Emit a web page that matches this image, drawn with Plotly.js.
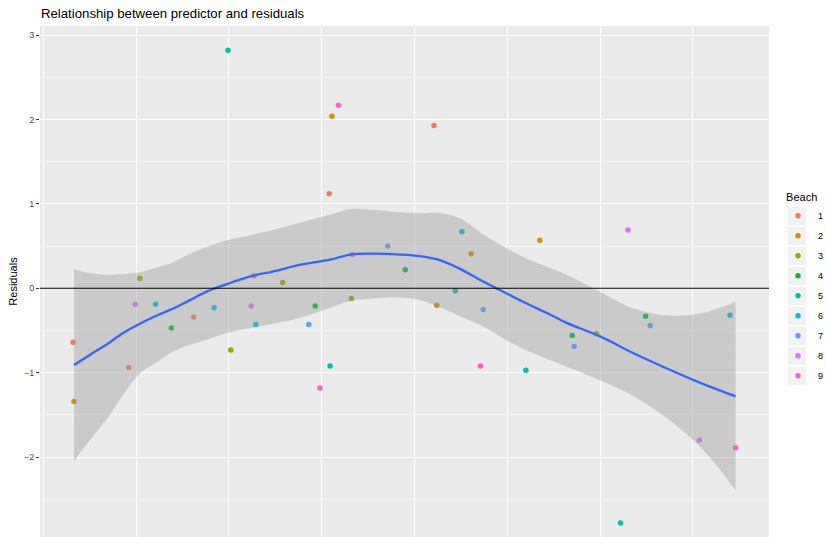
<!DOCTYPE html>
<html><head><meta charset="utf-8">
<script src="https://cdn.plot.ly/plotly-3.0.1.min.js"></script>
<style>html,body{margin:0;padding:0;background:#fff;overflow:hidden}</style>
</head><body><div id="chart" style="width:826px;height:537px"></div>
<script>
// Categories and colours
const beaches = ["1","2","3","4","5","6","7","8","9"];
const beachColors = ["#F8766D","#D39200","#93AA00","#00BA38","#00C19F","#00B9E3","#619CFF","#DB72FB","#FF61C3"];

// Points: predictor (x), residuals (y), beach
const pointX = [0.32,0.33,0.92,0.99,1.04,1.21,1.38,1.62,1.84,1.99,2.02,2.27,2.24,2.29,2.58,2.86,2.93,2.98,3.09,3.08,3.11,3.18,3.33,3.32,3.71,3.90,4.21,4.24,4.44,4.51,4.61,4.74,4.71,5.20,5.35,5.70,5.72,5.96,6.30,6.22,6.49,6.54,7.07,7.40,7.46];
const pointY = [-0.64,-1.34,-0.94,-0.19,0.12,-0.19,-0.47,-0.34,-0.23,2.82,-0.73,0.15,-0.21,-0.43,0.07,-0.43,-0.21,-1.18,-0.92,1.12,2.04,2.17,0.40,-0.12,0.50,0.22,1.93,-0.20,-0.03,0.67,0.41,-0.25,-0.92,-0.97,0.57,-0.56,-0.69,-0.54,0.69,-2.78,-0.33,-0.44,-1.80,-0.32,-1.89];
const pointBeach = ["1","2","1","8","3","6","4","1","6","5","3","9","8","6","3","7","4","9","5","1","2","9","8","3","7","4","1","2","5","6","2","7","9","5","2","4","7","3","8","5","4","7","8","6","9"];

// Smoother (loess) fit and confidence band
const fitX    = [0.33,0.50,0.69,0.86,1.04,1.23,1.40,1.58,1.76,1.98,2.23,2.48,2.77,3.09,3.31,3.55,3.84,4.06,4.28,4.49,4.74,4.92,5.17,5.46,5.64,6.00,6.36,6.72,7.08,7.46];
const fitY    = [-0.91,-0.79,-0.66,-0.53,-0.42,-0.32,-0.24,-0.14,-0.04,0.05,0.14,0.20,0.28,0.34,0.40,0.41,0.40,0.38,0.33,0.23,0.08,-0.02,-0.16,-0.31,-0.41,-0.57,-0.77,-0.95,-1.12,-1.28];
const ciUpper = [0.23,0.18,0.16,0.17,0.19,0.25,0.31,0.41,0.49,0.57,0.63,0.69,0.78,0.87,0.94,0.93,0.90,0.89,0.89,0.83,0.64,0.52,0.37,0.24,0.16,-0.04,-0.24,-0.32,-0.30,-0.16];
const ciLower = [-2.05,-1.80,-1.54,-1.26,-1.01,-0.87,-0.75,-0.67,-0.61,-0.53,-0.47,-0.42,-0.35,-0.23,-0.15,-0.12,-0.11,-0.14,-0.23,-0.33,-0.45,-0.57,-0.72,-0.85,-0.93,-1.09,-1.28,-1.54,-1.88,-2.39];

const FONT = "Liberation Sans, Arial, Helvetica, sans-serif";
const traces = [];
beaches.forEach((b, i) => {
  const xs = [], ys = [];
  pointBeach.forEach((pb, k) => { if (pb === b) { xs.push(pointX[k]); ys.push(pointY[k]); } });
  traces.push({
    type: "scatter", mode: "markers", name: b, x: xs, y: ys,
    legendgroup: "g" + b,
    marker: { color: beachColors[i], size: 5.5, line: { width: 0 } }
  });
});
traces.push({
  type: "scatter", mode: "lines", x: fitX, y: ciLower,
  line: { width: 0, shape: "spline", color: "rgba(0,0,0,0)" },
  showlegend: false, hoverinfo: "skip"
});
traces.push({
  type: "scatter", mode: "lines", x: fitX, y: ciUpper,
  fill: "tonexty", fillcolor: "rgba(153,153,153,0.4)",
  line: { width: 0, shape: "spline", color: "rgba(0,0,0,0)" },
  showlegend: false, hoverinfo: "skip"
});
traces.push({
  type: "scatter", mode: "lines", x: fitX, y: fitY,
  line: { color: "#3366FF", width: 2.3, shape: "spline" },
  showlegend: false, hoverinfo: "skip"
});

// legend key backgrounds (decoration)
const W = 826, H = 537, PL = 40, PR = 769, PT = 26, PB = 537;
const px2x = p => (p - PL) / (PR - PL);
const px2y = p => (PB - p) / (PB - PT);
const keyShapes = beaches.map((b, i) => {
  const cy = 216 + 20 * i;
  return { type: "rect", xref: "paper", yref: "paper", layer: "below",
           x0: px2x(788), x1: px2x(806), y0: px2y(cy + 9.2), y1: px2y(cy - 9.2),
           fillcolor: "#F2F2F2", line: { width: 0 } };
});

const layout = {
  width: W, height: H,
  margin: { l: 40, r: 57, t: 26, b: 0 },
  paper_bgcolor: "#FFFFFF", plot_bgcolor: "#EBEBEB",
  font: { family: FONT, color: "#000" },
  title: { text: "Relationship between predictor and residuals", font: { size: 13.2, family: FONT, color: "#000" },
           xref: "container", x: 41/826, xanchor: "left", yref: "container", y: 1 - 13/537, yanchor: "middle" },
  xaxis: { range: [-0.036, 7.82], tick0: 0, dtick: 1, showticklabels: false, ticks: "",
           showgrid: true, gridcolor: "#FFFFFF", gridwidth: 1.1, zeroline: false, showline: false },
  yaxis: { range: [-2.947, 3.108], tick0: 0, dtick: 1, ticks: "outside", ticklen: 3, tickwidth: 1, tickcolor: "#333333",
           tickfont: { size: 9, color: "#4D4D4D", family: FONT },
           showgrid: true, gridcolor: "#FFFFFF", gridwidth: 1.1, zeroline: false, showline: false,
           minor: { dtick: 0.5, tick0: 0, showgrid: true, gridcolor: "#FFFFFF", gridwidth: 0.55, ticks: "" },
           title: { text: "Residuals", font: { size: 11, color: "#000", family: FONT }, standoff: 4 } },
  shapes: [
    { type: "line", xref: "paper", x0: 0, x1: 1, yref: "y", y0: 0, y1: 0, line: { color: "#000000", width: 1.1 }, layer: "above" }
  ].concat(keyShapes),
  legend: {
    xref: "container", yref: "container", x: 778/826, y: 1 - 187/537, xanchor: "left", yanchor: "top",
    title: { text: "\u00a0\u00a0Beach", font: { size: 11, color: "#000", family: FONT } },
    font: { size: 9, color: "#000", family: FONT }, tracegroupgap: 1, bgcolor: "rgba(0,0,0,0)"
  },
  showlegend: true
};
Plotly.newPlot("chart", traces, layout, { displayModeBar: false, staticPlot: true });
</script></body></html>
